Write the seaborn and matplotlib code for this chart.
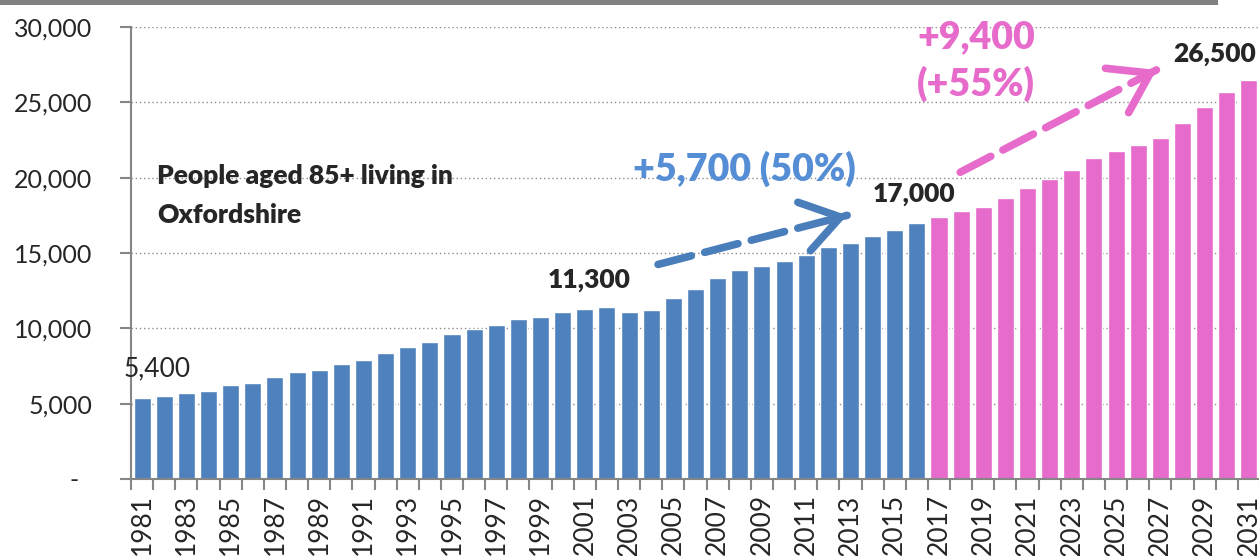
import numpy as np
import pandas as pd
import seaborn as sns
import matplotlib.pyplot as plt
from matplotlib.patches import Rectangle, FancyArrowPatch

sns.set_style("white")
plt.rcParams['font.family'] = ['Lato', 'DejaVu Sans']

# people aged 85+ in Oxfordshire, 1981-2016 estimates, 2017-2031 projections
years = list(range(1981, 2032))
people = [5400, 5500, 5700, 5850, 6250, 6380, 6750, 7100, 7250, 7630,
          7870, 8380, 8750, 9120, 9610, 9970, 10250, 10630, 10750, 11100,
          11300, 11400, 11100, 11240, 12000, 12610, 13370, 13890, 14130, 14500,
          14880, 15380, 15640, 16130, 16510, 17000,
          17360, 17760, 18020, 18640, 19300, 19890, 20500, 21310, 21760, 22160,
          22630, 23620, 24690, 25700, 26450]
period = ["past" if y <= 2016 else "projection" for y in years]
colours = {"past": "#4F81BD", "projection": "#E66BCB"}

df = pd.DataFrame({"Year": [str(y) for y in years], "People": people, "Period": period})

fig = plt.figure(figsize=(12.59, 5.56), dpi=100)
ax = fig.add_axes([131 / 1259, 77 / 556, 1129 / 1259, 452 / 556])

sns.barplot(data=df, x="Year", y="People", hue="Period", palette=colours,
            dodge=False, legend=False, width=0.77, saturation=1, ax=ax)

ax.set_xlim(-0.5, len(years) - 0.5)
ax.set_ylim(0, 30000)
ax.set_xlabel("")
ax.set_ylabel("")

# grid
ax.set_axisbelow(True)
for v in range(5000, 30001, 5000):
    ax.axhline(v, color="#8a8a8a", lw=1, ls=(0, (1, 2)), zorder=0)

for s in ["top", "right"]:
    ax.spines[s].set_visible(False)
for s in ["left", "bottom"]:
    ax.spines[s].set_color("#868686")
    ax.spines[s].set_linewidth(1.5)

# ticks
ax.set_yticks(range(0, 30001, 5000))
ax.set_yticklabels(["-  "] + [f"{v:,}" for v in range(5000, 30001, 5000)], fontsize=18)
ax.tick_params(axis="y", direction="out", length=8, width=1.5, color="#868686", pad=20, left=True)

ax.set_xticks(range(0, len(years), 2))
ax.set_xticklabels([str(y) for y in years[::2]], rotation=90, fontsize=19)
ax.set_xticks(np.arange(-0.5, len(years), 1), minor=True)
ax.tick_params(axis="x", which="major", length=0, pad=11)
ax.tick_params(axis="x", which="minor", direction="out", length=8, width=1.5,
               color="#868686", bottom=True)

# labels
bold = "heavy"
ax.text(-0.82, 7320, "5,400", fontsize=19, ha="left", va="center")
ax.text(20.2, 13240, "11,300", fontsize=19, fontweight=bold, ha="center", va="center")
ax.text(34.88, 18900, "17,000", fontsize=19, fontweight=bold, ha="center", va="center")
ax.text(48.44, 28210, "26,500", fontsize=19, fontweight=bold, ha="center", va="center")
ax.text(0.67, 20090, "People aged 85+ living in", fontsize=19, fontweight=bold, ha="left", va="center")
ax.text(0.67, 17500, "Oxfordshire", fontsize=19, fontweight=bold, ha="left", va="center")
ax.text(22.18, 20560, "+5,700 (50%)", fontsize=27, fontweight=bold, color="#558ED5",
        ha="left", va="center")
ax.text(35.02, 29340, "+9,400", fontsize=27, fontweight=bold, color="#E66BCB", ha="left", va="center")
ax.text(35.02, 26210, "(+55%)", fontsize=27, fontweight=bold, color="#E66BCB", ha="left", va="center")


def dashed_arrow(start, end, colour):
    line = FancyArrowPatch(start, end, arrowstyle="-", color=colour, lw=5.5,
                           linestyle=(0, (4.5, 1.8)), shrinkA=0, shrinkB=0, zorder=5)
    ax.add_patch(line)
    d = np.array(end) - np.array(start)
    back = (end[0] - d[0] * 0.05, end[1] - d[1] * 0.05)
    head = FancyArrowPatch(back, end, arrowstyle="->,head_length=0.45,head_width=0.3",
                           mutation_scale=60, color=colour, lw=5.5, shrinkA=0, shrinkB=0,
                           capstyle="round", joinstyle="round", zorder=5)
    ax.add_patch(head)


dashed_arrow((23.31, 14240), (31.85, 17500), "#4A7EBB")
dashed_arrow((36.96, 20360), (45.82, 27150), "#E66BCB")

# grey band along the top
fig.add_artist(Rectangle((0, 1 - 5 / 556), 1218 / 1259, 5 / 556, transform=fig.transFigure,
                         color="#808080", lw=0))

plt.savefig("out.png", dpi=100)
